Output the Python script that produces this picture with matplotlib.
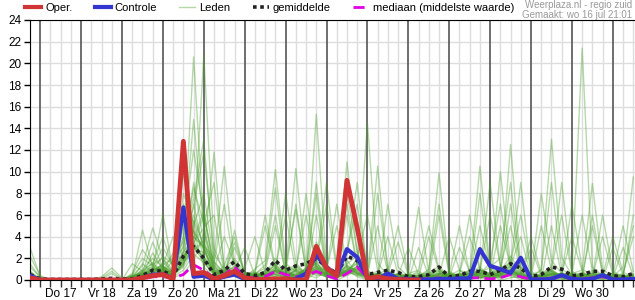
import numpy as np
import matplotlib.pyplot as plt
from matplotlib.lines import Line2D

# ============================================
# kleuren en opmaak
# ============================================
COLORS = {
    'oper': '#d03434',
    'controle': '#3434d0',
    'leden': '#4c9f2c',
    'leden_legend': '#b5d9a5',
    'mean': '#222222',
    'median': '#e000e0',
    'grid': '#dddddd',
    'day': '#555555',
    'credit': '#999999',
}

plt.rcParams.update({
    'font.family': ['Liberation Sans', 'DejaVu Sans'],
    'font.size': 8.5,
    'figure.dpi': 100,
})

# ============================================
# data (mm per 6 uur), punt 0 = wo 16 18:00, daarna elke 6 uur
# ============================================
day_labels = ['Do 17', 'Vr 18', 'Za 19', 'Zo 20', 'Ma 21', 'Di 22', 'Wo 23',
              'Do 24', 'Vr 25', 'Za 26', 'Zo 27', 'Ma 28', 'Di 29', 'Wo 30']
y_ticks = [0, 2, 4, 6, 8, 10, 12, 14, 16, 18, 20, 22, 24]

oper = [0.2, 0, 0, 0, 0, 0, 0, 0, 0, 0,
        0, 0.2, 0.4, 0.5, 0.1, 12.8, 0.6, 0.7, 0.1, 0.4,
        0.8, 0.2, 0.05, 0.05, 0.1, 0.1, 0, 0, 3.1, 1.1,
        0.4, 9.2, 4.8, 0.1, 0.3, 0.1, 0.05, 0, 0]

controle = [0.4, 0, 0, 0, 0, 0, 0, 0, 0, 0,
            0, 0.2, 0.5, 0.5, 0.2, 6.7, 0.3, 0.4, 0.05, 0.3,
            0.5, 0.1, 0, 0, 0, 0, 0.1, 0.6, 2.3, 1.2,
            0.4, 2.85, 2.1, 0.2, 0.1, 0.6, 0.1, 0.1, 0.05, 0.05,
            0.1, 0.1, 0.15, 0.15, 2.85, 1.3, 1.0, 0.65, 2.05, 0.05,
            0.05, 0.1, 0.45, 0.1, 0.05, 0.1, 0.45, 0.05, 0.05, 0.1]

gemiddelde = [0.5, 0.1, 0.05, 0.05, 0.05, 0.05, 0.05, 0.1, 0.15, 0.1,
              0.1, 0.4, 0.9, 0.8, 0.4, 2.2, 3.1, 2.0, 0.5, 0.9,
              1.7, 0.6, 0.4, 0.7, 1.8, 0.9, 1.3, 1.5, 2.0, 1.2,
              0.6, 2.2, 1.8, 0.5, 0.7, 0.9, 0.7, 0.3, 0.3, 0.5,
              1.2, 0.3, 0.4, 0.8, 0.8, 0.5, 0.9, 1.5, 1.1, 0.3,
              0.5, 1.2, 1.0, 0.4, 0.5, 0.8, 0.8, 0.4, 0.3, 0.6]

mediaan = [0.2, 0, 0, 0, 0, 0, 0, 0, 0, 0,
           0, 0.1, 0.3, 0.3, 0.2, 0.5, 1.4, 0.9, 0.2, 0.5,
           1.2, 0.3, 0.2, 0.3, 0.8, 0.5, 0.3, 0.4, 0.8, 0.4,
           0.1, 0.6, 1.2, 0.2, 0.1, 0.3, 0.2, 0.1, 0.1, 0.1,
           0.2, 0.05, 0.1, 0.2, 0.2, 0.1, 0.2, 0.5, 0.3, 0.05,
           0.1, 0.2, 0.3, 0.1, 0.1, 0.2, 0.3, 0.1, 0.05, 0.1]

leden = [
    [0.4, 0, 0, 0, 0, 0, 0, 0, 0, 0, 0, 0.6, 1.1, 6.1, 0.8, 2.5, 6.0, 3.1, 0.4, 0.2,
     1.0, 0, 0, 0.3, 1.2, 0.2, 0.5, 1.0, 2.4, 0.6, 0.1, 1.5, 2.2, 0.3, 0, 0.4, 0.1, 0, 3.0, 0.3,
     1.1, 0, 0, 0.2, 0.9, 0.3, 0.5, 1.8, 0.6, 0, 0, 5.0, 0.4, 0, 0, 0.3, 0.2, 0, 0, 0.5],
    [3.0, 0.3, 0, 0, 0, 0, 0, 0, 0, 0, 0.2, 1.0, 2.0, 1.2, 0.3, 1.5, 3.2, 2.0, 0.8, 0.3,
     4.6, 0.5, 0.2, 0, 0.8, 0.4, 0, 0.3, 1.1, 0.9, 5.0, 1.2, 0.6, 0, 0.2, 0.8, 0.3, 0, 0, 0.6,
     0.2, 0.1, 0, 0.4, 5.0, 1.0, 0.2, 0.5, 0.3, 0, 0.3, 0.8, 0.2, 0, 0.5, 0.2, 0, 3.0, 0.4, 0],
    [0.2, 0, 0, 0, 0, 0, 0, 0.3, 1.1, 0.2, 0, 0.3, 0.5, 0.9, 0.2, 0.6, 1.8, 4.2, 1.0, 0.5,
     0.9, 3.0, 0.4, 0, 0.2, 0.6, 1.3, 0.5, 0.2, 0.8, 0.3, 6.0, 1.4, 0.2, 0, 0.1, 0.5, 0.2, 0, 0.1,
     0.5, 0.8, 0.3, 0, 0.6, 0.4, 5.0, 1.2, 0.2, 0, 0, 0.2, 0.7, 0.3, 0, 0.9, 0.4, 0, 0.2, 6.0],
    [0, 0, 0, 0, 0, 0, 0, 0, 0, 0, 1.5, 0.8, 1.6, 0.7, 0.5, 12.0, 4.5, 1.2, 0.3, 0.9,
     0.3, 0, 0.6, 1.1, 6.0, 0.5, 0.2, 0, 0.7, 0.3, 0, 0.4, 0.9, 0.1, 0.6, 0, 0, 0.3, 0.8, 0.2,
     6.0, 0.4, 0, 0, 0.3, 0.2, 0.9, 0.5, 0, 0.2, 0.4, 0, 0, 0.2, 0.6, 0.3, 4.0, 0.5, 0, 0],
    [2.2, 0.4, 0, 0, 0, 0, 0, 0, 0, 0, 0, 0.4, 0.9, 1.4, 2.0, 3.5, 20.6, 5.0, 0.6, 0.2,
     0.5, 0.2, 0, 0.4, 1.5, 0.3, 0.9, 6.0, 1.3, 0.4, 0.2, 1.0, 0.3, 0, 0.5, 0.2, 0, 0.1, 0, 0.4,
     0.6, 0.2, 3.0, 0.8, 0.2, 0, 0.4, 1.0, 0.6, 0.2, 0, 0.5, 0.3, 0, 0.2, 0.4, 0.1, 0, 0.3, 0.2],
    [0.3, 0, 0, 0, 0, 0, 0, 0, 0, 0, 0.3, 4.6, 1.2, 0.8, 0.4, 1.7, 4.2, 20.8, 3.0, 0.6,
     1.8, 0.4, 0, 0.2, 0.6, 1.0, 0.3, 0.8, 9.0, 1.1, 0.4, 0.7, 1.9, 0.3, 0.1, 0, 0.2, 0.4, 0, 0,
     0, 0.3, 0.6, 4.0, 1.0, 0.5, 0, 0.2, 0.4, 0.1, 0.2, 0, 0.6, 4.0, 0.8, 0.2, 0, 0.4, 0.1, 0],
    [0, 0, 0, 0, 0, 0, 0, 0.2, 0.8, 0.1, 0, 0.2, 0.7, 1.0, 0.3, 0.9, 2.4, 1.6, 0.5, 1.3,
     4.0, 0.6, 0.3, 0, 0, 0.5, 0.2, 1.2, 0.6, 0.3, 0.6, 10.9, 2.3, 0.5, 0.8, 0.2, 0, 0, 0.2, 0,
     0.3, 0, 0.2, 0.5, 0.8, 6.0, 1.4, 0.3, 0.2, 0, 0.4, 0.9, 0.2, 0, 0.3, 0, 0.5, 0.2, 3.0, 0.4],
    [0.6, 0, 0, 0, 0, 0, 0, 0, 0, 0, 0.4, 1.3, 4.8, 1.9, 0.6, 2.2, 3.0, 2.5, 11.8, 0.9,
     0.6, 0.2, 0.5, 0.3, 0.8, 0, 0.4, 0.3, 1.8, 0.2, 0.5, 2.4, 9.0, 0.6, 0.2, 0.4, 0, 0.1, 0.3, 0,
     0.2, 0.5, 0, 0.3, 0.6, 1.2, 2.0, 9.0, 0.8, 0, 0, 0.3, 0.2, 0.6, 0, 0.2, 0.3, 0, 0, 0.2],
    [1.5, 0.2, 0, 0, 0, 0, 0, 0, 0, 0, 0.1, 0.5, 0.6, 0.4, 1.0, 10.0, 3.6, 1.8, 0.5, 0.3,
     0.6, 1.1, 4.0, 0.7, 0.5, 0.2, 1.0, 0.4, 0.6, 0.3, 0.2, 0.8, 1.2, 14.5, 1.6, 0.3, 0.5, 0.2, 0.1, 0,
     0.4, 0, 0.3, 0.9, 0.2, 0.4, 0.7, 1.5, 9.0, 0.6, 0.3, 0.1, 0, 0.4, 0.7, 0.2, 0.3, 0.6, 0, 0],
    [0, 0, 0, 0, 0, 0, 0, 0, 0, 0, 0.6, 2.8, 1.4, 2.0, 0.9, 3.8, 14.8, 4.5, 1.3, 0.4,
     0.7, 0.3, 0, 0.5, 0.3, 1.3, 6.5, 0.9, 0.4, 0.6, 0.3, 0.5, 1.0, 0.6, 10.5, 0.8, 0.2, 0, 0.4, 0.3,
     0.1, 0.6, 0.2, 0, 0.4, 0.6, 1.1, 5.0, 0.6, 0.3, 0.2, 0.6, 0.1, 0, 0.4, 0.2, 0.5, 0.1, 0.3, 0],
    [0.2, 0, 0, 0, 0, 0, 0, 0, 0, 0, 0, 0.7, 3.5, 1.1, 0.5, 1.3, 5.5, 3.2, 2.0, 10.5,
     1.6, 0.4, 0.7, 0.2, 0.5, 0.8, 0.3, 0.5, 1.4, 0.7, 0.4, 8.0, 2.7, 0.2, 0.6, 0.3, 0.1, 0.5, 0, 0.2,
     0.3, 0.2, 0.5, 0.6, 1.2, 0.3, 0.2, 0.8, 0.5, 4.0, 0.6, 0.2, 0.4, 0.1, 0, 6.0, 0.6, 0.2, 0, 0.4],
    [0.8, 0, 0, 0, 0, 0, 0, 0.1, 0.6, 0, 0, 0.3, 1.0, 2.2, 1.4, 4.0, 7.5, 13.0, 1.6, 0.7,
     1.2, 0.1, 0.3, 0.6, 2.0, 0.4, 0.5, 0.9, 8.0, 0.5, 0.3, 1.8, 0.6, 0.4, 0.2, 0.5, 0.3, 0, 0.2, 0.6,
     1.3, 0.2, 0, 0.3, 8.0, 0.9, 0.4, 0.6, 0.2, 0, 0.5, 1.0, 0.2, 0.3, 0, 0.4, 0.6, 0.2, 0.1, 0.3],
    [0, 0, 0, 0, 0, 0, 0, 0, 0, 0, 0.2, 0.9, 1.5, 4.0, 1.1, 2.6, 3.8, 6.4, 0.9, 0.5,
     3.5, 0.6, 0.2, 0.4, 0.9, 0.2, 0.7, 0.4, 2.0, 1.0, 0.5, 2.6, 7.0, 0.9, 0.3, 0.4, 0, 0.2, 0.3, 0,
     0.4, 0.3, 0.6, 0.2, 0.5, 1.6, 7.0, 1.0, 0.3, 0.1, 0, 0.4, 0.3, 0, 0.6, 0.2, 0.4, 0.3, 1.2, 9.5],
    [1.2, 0.3, 0, 0, 0, 0, 0, 0, 0, 0, 0.3, 0.5, 0.8, 1.2, 0.7, 4.8, 12.0, 6.0, 1.4, 0.6,
     0.8, 0.3, 0.6, 5.0, 1.0, 0.4, 0.2, 0.6, 1.6, 0.4, 0.2, 0.9, 1.5, 0.5, 0.4, 7.0, 1.2, 0.3, 0, 0.2,
     0.6, 0.4, 0.9, 0.3, 0.2, 0.5, 0.8, 2.2, 0.7, 0.4, 8.0, 1.8, 0.6, 0.2, 0.3, 0.7, 0.2, 0, 0.4, 0.2],
    [0.3, 0, 0, 0, 0, 0, 0, 0, 0, 0, 0.5, 2.0, 1.3, 0.7, 1.8, 3.0, 8.5, 5.2, 9.0, 1.1,
     0.4, 0.8, 0.2, 0.6, 0.3, 0.9, 1.4, 0.5, 3.5, 0.7, 0.2, 0.6, 2.0, 6.0, 0.9, 0.2, 0.4, 0, 0.3, 0.5,
     0.2, 0.1, 0.4, 0.6, 0.9, 0.3, 0.5, 1.2, 0.4, 0.2, 1.0, 13.0, 2.1, 0.4, 0.2, 0.3, 0.6, 0.1, 0, 0.3],
    [0, 0, 0, 0, 0, 0, 0, 0, 0, 0, 0.1, 0.4, 2.5, 1.0, 0.6, 1.9, 4.6, 2.8, 1.0, 4.0,
     1.5, 0.2, 0.4, 0.8, 1.4, 0.6, 0.3, 1.1, 2.7, 0.5, 0.6, 1.3, 0.8, 0.3, 8.0, 1.0, 0.2, 0.4, 0.1, 0,
     0.3, 0.6, 0.2, 0.4, 0.7, 0.5, 1.0, 1.6, 6.0, 0.8, 0.2, 0.5, 0.3, 0.6, 0.2, 0.4, 0.3, 0.2, 0.5, 5.0],
    [0, 0, 0, 0, 0, 0, 0, 0, 0, 0, 0, 0.2, 0.6, 1.6, 0.8, 8.0, 5.3, 2.1, 0.6, 0.3,
     0.9, 0.5, 0.8, 6.0, 1.2, 0.3, 0.6, 0.2, 1.0, 0.4, 0.3, 0.7, 1.1, 0.4, 0.6, 0.9, 5.0, 0.6, 0.2, 0.1,
     0.5, 0.2, 0.3, 0.8, 0.4, 0.2, 0.6, 7.0, 0.9, 0.3, 0.1, 0.6, 0.4, 0.2, 0.5, 0.3, 0.2, 0.6, 0.3, 0],
    [0.1, 0, 0, 0, 0, 0, 0, 0, 0, 0, 0.2, 0.8, 1.2, 3.0, 1.3, 2.0, 4.0, 2.9, 0.7, 0.5,
     0.6, 0.3, 1.0, 1.8, 10.2, 1.5, 0.8, 0.4, 2.2, 0.6, 0.4, 1.2, 0.9, 0.3, 0.2, 0.6, 0.4, 3.0, 0.5, 0.2,
     0.6, 0.3, 0.4, 0.2, 0.9, 0.6, 0.3, 1.4, 0.5, 3.0, 0.4, 0.8, 0.2, 0.3, 0.1, 0.6, 0.4, 0.2, 0, 0.2],
    [0, 0, 0, 0, 0, 0, 0, 0, 0, 0, 0.3, 0.6, 0.9, 1.4, 4.0, 2.2, 3.4, 2.0, 0.8, 0.9,
     1.1, 0.4, 0.3, 0.5, 0.8, 8.0, 1.6, 0.5, 1.3, 0.3, 0.2, 0.9, 1.6, 0.4, 0.5, 0.3, 0.6, 0.4, 6.7, 0.6,
     0.9, 0.2, 0.5, 0.4, 0.6, 0.3, 0.8, 1.0, 0.4, 0.2, 5.0, 0.9, 0.4, 0.3, 0.6, 0.2, 0.5, 0.3, 0.6, 4.0],
    [0.8, 0.1, 0, 0, 0, 0, 0, 0, 0, 0, 0.4, 0.3, 1.1, 0.6, 0.9, 3.2, 6.8, 11.8, 2.4, 1.0,
     2.0, 0.7, 0.3, 0.9, 0.6, 1.2, 10.3, 1.4, 0.8, 0.5, 0.3, 1.4, 0.7, 0.2, 0.6, 0.4, 0.2, 0.6, 0.9, 5.0,
     1.0, 0.4, 0.3, 0.6, 0.2, 0.4, 0.6, 0.9, 1.2, 0.5, 0.8, 9.0, 1.0, 0.4, 0.2, 0.5, 0.3, 0.6, 0.2, 0.4],
    [0, 0, 0, 0, 0, 0, 0, 0, 0, 0, 0.2, 1.5, 0.7, 1.0, 0.4, 1.6, 2.8, 3.6, 0.9, 0.4,
     0.7, 0.2, 0.5, 1.4, 8.5, 0.9, 0.4, 0.6, 1.0, 0.3, 0.5, 0.8, 0.4, 0.2, 0.4, 0.3, 0.5, 0.2, 0.4, 0.8,
     9.9, 0.7, 0.3, 0.2, 0.5, 0.3, 0.4, 0.7, 0.3, 0.2, 0.6, 1.2, 9.0, 0.8, 0.3, 0.2, 0.4, 0.2, 0.3, 0.6],
    [0.4, 0, 0, 0, 0, 0, 0, 0, 0, 0, 0, 0.4, 0.6, 0.8, 2.5, 1.8, 3.5, 4.8, 6.0, 0.6,
     0.5, 0.4, 0.2, 0.6, 1.1, 0.5, 0.3, 0.9, 1.5, 0.8, 0.2, 0.6, 1.3, 0.5, 5.0, 0.6, 0.3, 0.2, 0, 0.3,
     0.4, 4.0, 0.9, 0.6, 0.3, 0.2, 0.5, 0.8, 0.3, 0.2, 0.3, 0.6, 0.4, 7.0, 1.0, 0.4, 0.2, 0.3, 0.5, 0.2],
    [0, 0, 0, 0, 0, 0, 0, 0, 0, 0, 0.3, 0.5, 1.4, 0.9, 0.6, 7.0, 4.4, 3.0, 0.6, 0.8,
     1.0, 0.3, 0.6, 0.4, 0.9, 0.6, 7.0, 0.8, 1.2, 0.4, 0.6, 0.9, 0.5, 0.3, 0.2, 0.4, 0.2, 0.5, 0.3, 1.0,
     7.0, 0.6, 0.4, 0.3, 0.5, 0.2, 0.3, 0.6, 0.4, 0.2, 0.5, 0.8, 0.3, 0.5, 21.4, 1.2, 0.4, 0.2, 0.3, 0.5],
    [0.2, 0, 0, 0, 0, 0, 0, 0, 0, 0, 0.1, 0.3, 0.9, 1.3, 0.5, 2.7, 9.0, 3.4, 1.1, 0.5,
     0.6, 0.3, 0.4, 0.7, 1.3, 0.4, 0.8, 8.0, 1.0, 0.6, 0.3, 1.1, 0.6, 0.5, 0.4, 4.0, 0.5, 0.3, 0.2, 0.4,
     0.6, 0.3, 0.5, 0.9, 0.6, 0.4, 0.6, 1.3, 4.0, 0.3, 0.4, 0.5, 0.3, 0.6, 0.9, 8.9, 1.0, 0.3, 0.4, 0.2],
    [0, 0, 0, 0, 0, 0, 0, 0, 0, 0, 0.4, 0.6, 0.8, 1.1, 0.7, 1.4, 5.0, 8.0, 1.7, 0.6,
     0.8, 0.2, 0.5, 0.4, 0.9, 0.6, 1.1, 0.7, 15.3, 1.4, 0.5, 0.8, 1.0, 0.4, 0.3, 0.5, 0.2, 0.4, 0.6, 0.3,
     0.2, 0.5, 5.0, 0.6, 0.4, 0.3, 0.5, 0.9, 0.3, 0.2, 0.3, 0.4, 0.6, 0.5, 6.0, 0.8, 0.2, 0.4, 0.3, 0.2],
    [0.1, 0, 0, 0, 0, 0, 0, 0, 0, 0, 0.2, 0.4, 1.0, 0.8, 0.3, 5.5, 3.1, 1.6, 0.5, 0.7,
     1.3, 0.5, 0.3, 0.8, 5.0, 0.7, 0.4, 0.6, 1.7, 9.0, 1.2, 0.7, 0.5, 0.3, 0.6, 0.3, 0.4, 0.2, 0.5, 0.6,
     0.8, 0.3, 0.6, 6.0, 1.0, 0.4, 0.3, 0.8, 0.5, 0.3, 0.6, 0.9, 6.0, 0.5, 0.3, 0.4, 0.6, 0.2, 0.3, 0.4],
    [0, 0, 0, 0, 0, 0, 0, 0, 0, 0, 0.3, 0.8, 0.6, 1.2, 0.9, 2.0, 7.0, 2.6, 0.8, 0.3,
     0.5, 0.6, 0.3, 0.5, 0.8, 0.4, 1.0, 0.5, 6.0, 0.9, 7.0, 1.1, 0.6, 0.4, 0.3, 0.6, 0.2, 0.3, 0.4, 0.2,
     0.5, 0.6, 0.3, 0.7, 10.5, 1.1, 0.6, 0.9, 0.4, 0.3, 0.2, 0.6, 0.4, 0.3, 0.5, 5.0, 0.6, 0.3, 0.2, 0.5],
    [0.3, 0, 0, 0, 0, 0, 0, 0, 0, 0, 0.2, 0.5, 1.1, 0.7, 0.6, 1.5, 3.3, 6.0, 1.2, 0.5,
     0.9, 0.4, 0.6, 0.3, 1.0, 6.0, 0.8, 0.4, 1.3, 0.6, 0.4, 0.9, 0.7, 0.5, 0.4, 0.6, 3.5, 0.4, 0.3, 0.5,
     0.7, 0.4, 0.2, 0.5, 0.8, 9.0, 1.2, 0.6, 0.4, 0.2, 0.3, 0.7, 0.5, 0.4, 0.6, 0.3, 6.0, 0.8, 0.3, 0.2],
    [0, 0, 0, 0, 0, 0, 0, 0, 0, 0, 0.3, 0.6, 0.4, 0.9, 0.5, 1.2, 2.9, 2.2, 0.7, 0.6,
     3.0, 0.7, 0.4, 0.6, 0.5, 0.3, 0.9, 0.4, 1.1, 0.5, 0.6, 7.0, 1.3, 0.4, 0.6, 0.3, 0.5, 0.2, 0.4, 0.3,
     0.5, 0.3, 0.6, 0.4, 0.7, 0.5, 10.0, 1.4, 0.6, 0.3, 0.4, 0.6, 0.3, 0.5, 0.2, 0.6, 0.4, 4.0, 0.7, 0.3],
    [0.5, 0, 0, 0, 0, 0, 0, 0, 0, 0, 0.4, 0.7, 0.5, 1.3, 0.6, 1.8, 4.0, 3.1, 1.5, 7.0,
     1.2, 0.4, 0.7, 0.5, 0.9, 0.6, 0.4, 1.0, 1.5, 7.0, 0.9, 0.6, 1.2, 0.4, 0.5, 0.3, 0.6, 0.4, 0.2, 4.0,
     0.8, 0.5, 0.4, 0.6, 0.9, 0.6, 0.5, 12.5, 1.1, 0.5, 0.3, 0.5, 0.6, 0.3, 0.4, 0.6, 0.3, 0.4, 5.0, 0.8],
]

# tijd in dagen vanaf do 17 00:00
t = (np.arange(len(controle)) - 1) / 4.0
for k, m in enumerate(leden):
    if len(m) != len(t):
        print('lid', k, 'heeft', len(m), 'waarden')

# ============================================
# figuur
# ============================================
fig = plt.figure(figsize=(6.35, 3.0), dpi=100)
ax = fig.add_axes([30 / 635, 20 / 300, 605 / 635, 260 / 300])

for m in leden:
    ax.plot(t, m, color=COLORS['leden'], lw=1.0, alpha=0.4, zorder=2)

ax.plot(t, mediaan, color=COLORS['median'], lw=2.0, ls=(0, (4, 2)), zorder=3)
ax.plot(t, gemiddelde, color=COLORS['mean'], lw=2.6, ls=(0, (1, 1)), zorder=4)
ax.plot(t, controle, color=COLORS['controle'], lw=3.0, zorder=5)
ax.plot(t[:len(oper)], oper, color=COLORS['oper'], lw=3.5, zorder=6)

# rasterlijnen: elke 6 uur licht, dagovergang donker
six_hours = np.arange(-0.25, 14.75, 0.25)
for x in six_hours:
    if abs(x - round(x)) < 1e-6:
        ax.axvline(x, color=COLORS['day'], lw=1.2, zorder=1)
    else:
        ax.axvline(x, color=COLORS['grid'], lw=1.0, zorder=0)
for y in y_ticks:
    ax.axhline(y, color=COLORS['grid'], lw=1.0, zorder=0)

ax.set_xlim(-0.25, -0.25 + 605 / 40.9)
ax.set_ylim(0, 24)
ax.set_yticks(y_ticks)
ax.tick_params(axis='y', length=4, width=1, pad=2, labelsize=8.5)

# streepjes elke 6 uur, daglabel op 12:00
tick_text = []
for x in six_hours:
    d = x - 0.5
    if abs(d - round(d)) < 1e-6 and 0 <= round(d) < len(day_labels):
        tick_text.append(day_labels[int(round(d))])
    else:
        tick_text.append('')
ax.set_xticks(six_hours)
ax.set_xticklabels(tick_text)
ax.tick_params(axis='x', length=5, width=1, color='#333333', pad=0.5, labelsize=8.5)

ax.spines['right'].set_visible(False)
for s in ['left', 'top', 'bottom']:
    ax.spines[s].set_color('black')

# legenda boven de grafiek
handles = [
    Line2D([], [], color=COLORS['oper'], lw=3),
    Line2D([], [], color=COLORS['controle'], lw=3),
    Line2D([], [], color=COLORS['leden_legend'], lw=1),
    Line2D([], [], color=COLORS['mean'], lw=2.6, ls=(0, (1, 1))),
    Line2D([], [], color=COLORS['median'], lw=2, ls=(0, (4, 2))),
]
labels = ['Oper.', 'Controle', 'Leden', 'gemiddelde', 'mediaan (middelste waarde)']
fig.legend(handles, labels, loc='center left', bbox_to_anchor=(24 / 635, 1 - 8 / 300),
           ncol=5, frameon=False, fontsize=8, handlelength=1.45,
           handletextpad=0.35, columnspacing=2.0, borderpad=0.1, borderaxespad=0)

fig.text(632 / 635, 1 - 5 / 300, 'Weerplaza.nl - regio zuid', ha='right', va='center',
         fontsize=7, color=COLORS['credit'])
fig.text(632 / 635, 1 - 15 / 300, 'Gemaakt: wo 16 jul 21:01', ha='right', va='center',
         fontsize=7, color=COLORS['credit'])

fig.savefig('out.png', dpi=100)
